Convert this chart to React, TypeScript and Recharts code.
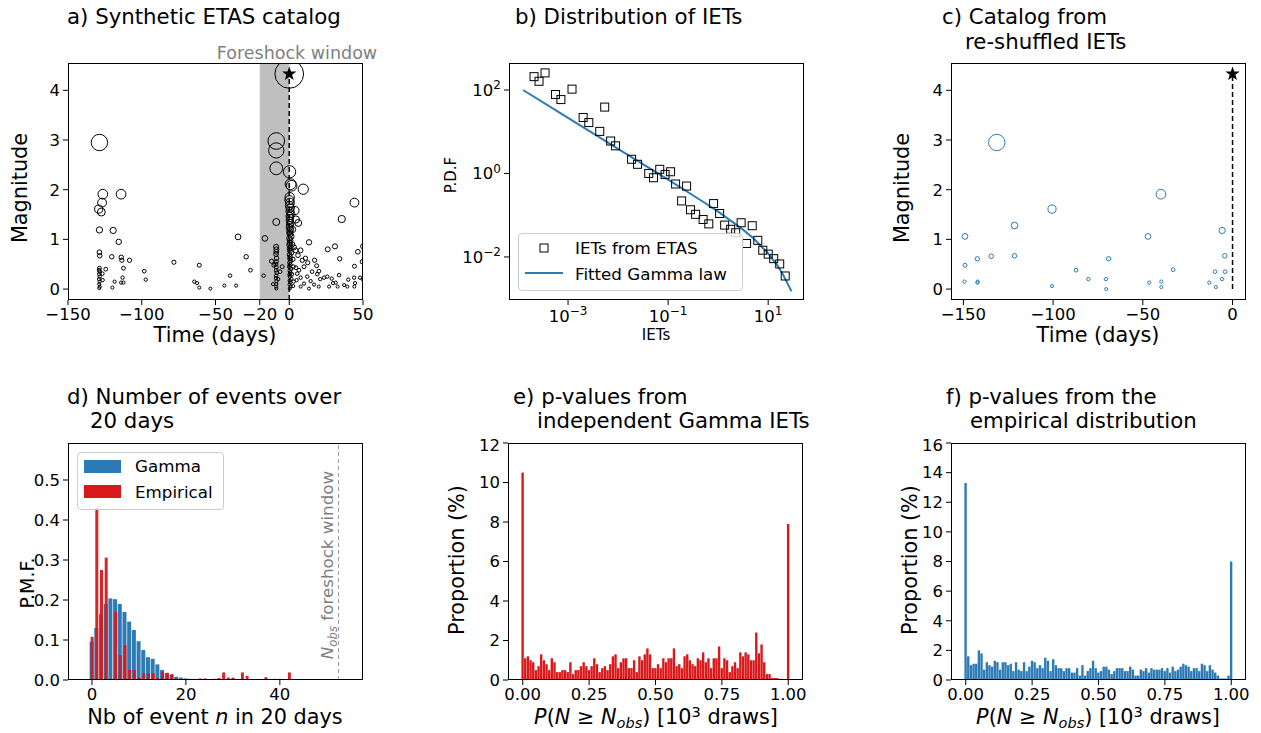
import React from "react";
import {
  ScatterChart,
  Scatter,
  ComposedChart,
  Line,
  BarChart,
  Bar,
  XAxis,
  YAxis,
  ReferenceArea,
  ReferenceLine,
} from "recharts";

const FONT = "'DejaVu Sans', sans-serif";
const BLUE = "#2c7bb6";
const RED = "#d7191c";

// a) synthetic ETAS catalog: [time (days), magnitude]
const etasEvents: [number, number][] = [
  [-128.7, 2.95], [-126.4, 1.91], [-126.9, 1.74], [-129.2, 1.61], [-127.4, 1.55], [-128.7, 1.19],
  [-114.0, 1.91], [-119.4, 1.18], [-115.6, 0.95], [-128.7, 0.74], [-128.5, 0.67], [-120.3, 0.65],
  [-113.9, 0.64], [-113.5, 0.58], [-108.3, 0.58], [-112.4, 0.42], [-124.4, 0.4], [-128.7, 0.42],
  [-128.9, 0.38], [-128.4, 0.35], [-128.8, 0.3], [-128.5, 0.25], [-128.9, 0.2], [-128.6, 0.15],
  [-128.8, 0.1], [-128.5, 0.05], [-128.8, 0.02], [-126.7, 0.31], [-126.5, 0.18], [-119.9, 0.03],
  [-118.4, 0.15], [-113.0, 0.23], [-112.4, 0.13], [-114.0, 0.13], [-98.3, 0.36], [-97.3, 0.19],
  [-78.2, 0.54], [-64.4, 0.15], [-62.5, 0.12], [-61.0, 0.48], [-61.0, 0.03], [-53.5, 0.01],
  [-44.0, 0.07], [-40.1, 0.27], [-36.0, 0.07], [-34.7, 1.05], [-29.2, 0.65], [-26.3, 0.38],
  [-17.4, 0.27], [-16.5, 1.02],
  [-8.8, 2.98], [-8.8, 2.79], [-8.8, 2.43], [-8.8, 1.35], [-8.9, 0.85], [-8.7, 0.8], [-8.8, 0.75],
  [-9.0, 0.7], [-8.6, 0.62], [-8.8, 0.55], [-9.1, 0.5], [-8.7, 0.44], [-8.9, 0.38], [-8.5, 0.33],
  [-8.8, 0.27], [-9.0, 0.22], [-8.7, 0.16], [-8.8, 0.1], [-8.9, 0.05], [-8.8, 0.01], [-12.0, 0.56],
  [-10.4, 0.48], [-4.8, 0.45], [-7.5, 0.2], [-6.2, 0.35], [-11.0, 0.1],
  [0, 4.33], [0.2, 2.36], [0.9, 2.11], [1.6, 2.08], [9.5, 2.01],
  [0.3, 1.85], [0.1, 1.79], [0.5, 1.74], [0.2, 1.68], [0.7, 1.63], [0.4, 1.57], [1.1, 1.52],
  [0.3, 1.47], [0.6, 1.43], [0.2, 1.38], [0.9, 1.33], [0.4, 1.29], [0.1, 1.24], [0.8, 1.2],
  [0.3, 1.15], [0.5, 1.11], [1.3, 1.06], [0.2, 1.02], [0.6, 0.98], [0.4, 0.93], [0.1, 0.89],
  [0.9, 0.85], [0.3, 0.81], [0.5, 0.77], [1.5, 0.73], [0.2, 0.69], [0.7, 0.65], [0.4, 0.61],
  [1.0, 0.57], [0.3, 0.53], [0.6, 0.49], [0.1, 0.45], [1.2, 0.41], [0.4, 0.37], [0.8, 0.33],
  [0.2, 0.29], [0.5, 0.25], [1.4, 0.21], [0.3, 0.17], [0.7, 0.13], [0.2, 0.09], [0.9, 0.05],
  [0.4, 0.01], [2.0, 0.9], [2.5, 0.6], [1.8, 0.3], [2.2, 1.2], [3.0, 0.15], [2.8, 0.45],
  [4.5, 1.4], [6.1, 1.33], [3.9, 1.58], [3.2, 0.84], [7.7, 0.78], [13.4, 0.94], [26.1, 0.8],
  [31.0, 0.86], [34.2, 0.61], [35.6, 1.41], [44.2, 1.74], [46.5, 0.75], [50.1, 0.86], [44.2, 0.46],
  [44.0, 0.23], [44.6, 0.12], [44.1, 0.05], [40.0, 0.19], [48.0, 0.23], [11.0, 0.62], [12.5, 0.53],
  [17.2, 0.58], [18.6, 0.47], [20.1, 0.36], [21.0, 0.2], [23.6, 0.23], [25.8, 0.25], [28.8, 0.21],
  [29.7, 0.12], [31.5, 0.13], [33.8, 0.28], [32.8, 0.05], [27.0, 0.05], [20.0, 0.05], [16.8, 0.09],
  [14.5, 0.16], [12.2, 0.25], [10.0, 0.11], [7.7, 0.23], [5.4, 0.31], [4.5, 0.43], [6.6, 0.38],
  [8.8, 0.58], [5.9, 0.68], [4.3, 0.78], [10.0, 0.45], [7.7, 0.05], [2.7, 0.06], [5.0, 0.18],
  [15.5, 0.35], [19.0, 0.3], [13.4, 0.01], [39.4, 0.05], [37.2, 0.08], [49.8, 0.2], [49.5, 0.55],
];
const mainshock = [{ t: 0, m: 4.33 }];

// c) catalog rebuilt from re-shuffled IETs
const shuffledEvents: [number, number][] = [
  [-149.1, 1.06], [-149.1, 0.48], [-149.4, 0.15], [-142.2, 0.61], [-142.2, 0.13], [-142.0, 0.15],
  [-134.5, 0.66], [-131.4, 2.95], [-121.5, 1.28], [-121.5, 0.67], [-100.6, 1.61], [-100.6, 0.06],
  [-87.2, 0.38], [-80.3, 0.2], [-70.6, 0.2], [-70.4, 0.0], [-69.1, 0.61], [-47.1, 1.06],
  [-46.4, 0.13], [-39.9, 1.91], [-39.7, 0.15], [-39.7, 0.04], [-33.1, 0.39], [-13.0, 0.13],
  [-9.7, 0.35], [-9.3, 0.04], [-5.8, 1.18], [-5.8, 0.2], [-4.3, 0.67], [-4.1, 0.35],
];

// b) distribution of inter-event times
const ietX = [
  2.09e-4, 2.63e-4, 3.47e-4, 5.6e-4, 7.2e-4, 1.2e-3, 5.4e-3, 2.0e-3, 2.6e-3, 4.3e-3,
  7.1e-3, 8.9e-3, 0.0186, 0.0245, 0.041, 0.051, 0.068, 0.087, 0.112, 0.141,
  0.234, 0.186, 0.28, 0.355, 0.5, 0.65, 0.81, 1.07, 1.35, 1.78,
  2.24, 2.88, 3.7, 4.8, 6.2, 7.8, 10.0, 12.9, 17.0, 21.9,
];
const ietPdf = [
  209, 162, 257, 78, 59, 105, 39, 22, 16.6, 10.2,
  6.0, 4.6, 2.19, 1.66, 1.0, 0.79, 1.26, 0.95, 1.1, 0.56,
  0.5, 0.22, 0.135, 0.105, 0.079, 0.062, 0.19, 0.11, 0.058, 0.046,
  0.038, 0.066, 0.021, 0.056, 0.025, 0.0145, 0.0117, 0.0091, 0.0068, 0.0035,
];
const gammaX = [1.26e-4, 1e-3, 1e-2, 0.1, 0.5, 1, 3, 5, 10, 15, 20, 29.3];
const gammaPdf = [100, 21.6, 3.9, 0.71, 0.21, 0.122, 0.047, 0.0283, 0.0121, 0.0065, 0.0037, 0.0015];

// d) number of events over 20 days
const nEvents = [
  0, 1, 2, 3, 4, 5, 6, 7, 8, 9, 10, 11, 12, 13, 14, 15, 16, 17, 18, 19, 20, 21,
  22, 23, 24, 25, 26, 27, 28, 29, 30, 31, 32, 33, 34, 35, 36, 37, 38, 39, 40, 41, 42,
];
const pmfGamma = [
  0.096, 0.13, 0.165, 0.19, 0.204, 0.202, 0.19, 0.17, 0.146, 0.125,
  0.097, 0.075, 0.057, 0.053, 0.039, 0.025, 0.017, 0.0125, 0.008, 0.006,
  0.004, 0.003, 0.002, 0.0015, 0.001, 0.0007, 0.0005, 0, 0, 0,
  0, 0, 0, 0, 0, 0, 0, 0, 0, 0, 0, 0, 0,
];
const pmfEmpirical = [
  0.108, 0.43, 0.275, 0.306, 0, 0.171, 0.062, 0.087, 0.025, 0.025,
  0.006, 0.017, 0.017, 0.017, 0.005, 0.02, 0.018, 0.015, 0.004, 0.002,
  0.002, 0, 0.001, 0.004, 0.004, 0, 0.003, 0.005, 0.019, 0.006,
  0.006, 0, 0.019, 0.01, 0, 0, 0.002, 0.007, 0, 0.003, 0.003, 0, 0.019,
];
const nObs = 52.5;

// e) p-values, independent Gamma IETs (bins of 0.01 centred on 0..1)
const pValGammaIETs = [
  10.5, 1.1, 1.2, 1.0, 0.9, 0.5, 0.7, 1.3, 1.0, 0.8,
  0.5, 1.1, 0.9, 0.4, 0.4, 0.5, 0.5, 0.4, 0.9, 0.3,
  0.5, 0.5, 0.7, 0.9, 0.7, 0.5, 0.7, 1.1, 0.8, 0.4,
  0.6, 0.7, 0.5, 0.8, 1.2, 1.3, 0.6, 0.9, 1.1, 1.1,
  0.6, 0.6, 1.0, 0.4, 1.2, 1.0, 1.3, 1.6, 1.3, 0.6,
  0.6, 0.8, 0.6, 1.1, 0.9, 1.1, 1.1, 1.6, 0.7, 0.8,
  0.6, 1.2, 1.3, 1.0, 0.8, 0.7, 1.1, 1.0, 1.4, 0.9,
  1.1, 0.6, 1.1, 1.1, 1.7, 0.6, 1.1, 1.0, 0.4, 0.7,
  0.9, 0.6, 1.4, 1.2, 1.4, 1.3, 1.0, 1.0, 2.4, 1.35,
  1.8, 0.9, 0.3, 0.3, 0.1, 0.1, 0.1, 0, 0, 0,
  7.9,
];
// f) p-values, empirical distribution
const pValEmpirical = [
  13.3, 1.6, 1.0, 1.1, 1.1, 2.0, 1.8, 0.7, 1.2, 1.0,
  0.9, 1.3, 1.2, 0.7, 1.2, 1.2, 1.0, 1.1, 0.6, 1.2,
  0.7, 0.6, 1.2, 0.6, 0.9, 1.3, 1.2, 0.8, 1.0, 0.8,
  1.5, 1.3, 0.6, 1.4, 1.0, 0.8, 0.8, 0.6, 0.8, 0.8,
  0.5, 0.5, 0.8, 0.3, 1.0, 0.3, 0.6, 0.8, 1.3, 0.8,
  0.5, 0.6, 0.9, 0.9, 0.7, 0.4, 0.6, 0.8, 0.8, 0.8,
  0.6, 0.6, 0.9, 0.7, 0.3, 0.3, 0.7, 0.6, 0.8, 0.5,
  0.8, 0.7, 0.7, 0.7, 0.8, 0.6, 0.8, 0.5, 0.9, 0.6,
  0.7, 0.9, 1.1, 1.0, 0.9, 0.6, 0.8, 0.8, 0.6, 1.1,
  1.0, 0.6, 1.0, 0.7, 0.5, 0.3, 0.1, 0.1, 0.1, 0.3,
  8.0,
];

const aData = etasEvents.map(([t, m]) => ({ t, m }));
const cData = shuffledEvents.map(([t, m]) => ({ t, m }));
const ietData = ietX.map((x, i) => ({ x, y: ietPdf[i] }));
const gammaData = gammaX.map((x, i) => ({ x, y: gammaPdf[i] }));
const pmfData = nEvents.map((n, i) => ({ n, gamma: pmfGamma[i], emp: pmfEmpirical[i] }));
const eData = pValGammaIETs.map((v, i) => ({ p: i / 100, v }));
const fData = pValEmpirical.map((v, i) => ({ p: i / 100, v }));

// layout
const PW = 295;
const PH = 237;
const YW = 70;
const MT = 8;
const MR = 22;
const XH = 50;
const CW = PW + YW + MR;
const CH = PH + MT + XH;
const margin = { top: MT, right: MR, left: 0, bottom: 0 };
const TICK = 16.5;

const tickStyle = { fontSize: TICK, fill: "#000", fontFamily: FONT };
const axisCommon = {
  axisLine: false,
  tickLine: { stroke: "#000" },
  tickSize: 5,
  tickMargin: 3,
  tick: tickStyle,
  allowDataOverflow: true,
};

const minus = (v: number) => (v < 0 ? "\u2212" + Math.abs(v) : String(v));
const markerRadius = (m: number) => 1.5 + 0.8 * m + 0.5 * m * m;

function starPath(cx: number, cy: number, R: number) {
  let d = "";
  for (let i = 0; i < 10; i++) {
    const r = i % 2 === 0 ? R : R * 0.4;
    const a = -Math.PI / 2 + (i * Math.PI) / 5;
    d += (i ? "L" : "M") + (cx + r * Math.cos(a)).toFixed(2) + "," + (cy + r * Math.sin(a)).toFixed(2);
  }
  return d + "Z";
}

const ringShape = (color: string) => (p: any) => (
  <circle cx={p.cx} cy={p.cy} r={markerRadius(p.payload?.m ?? 0)} fill="none" stroke={color} strokeWidth={1} />
);
const starShape = (p: any) => <path d={starPath(p.cx, p.cy, 7.5)} fill="#000" />;
const squareShape = (p: any) => (
  <rect x={p.cx - 4} y={p.cy - 4} width={8} height={8} fill="none" stroke="#000" strokeWidth={1} />
);

function PowTick(props: any) {
  const { x, y, payload, side } = props;
  const e = Math.round(Math.log10(payload.value));
  const exp = e < 0 ? "\u2212" + Math.abs(e) : String(e);
  if (side === "y") {
    return (
      <text x={x} y={y} textAnchor="end" dy="0.355em" style={{ fontSize: TICK, fontFamily: FONT }} fill="#000">
        10<tspan dy="-0.55em" style={{ fontSize: 12 }}>{exp}</tspan>
      </text>
    );
  }
  return (
    <text x={x} y={y + 2} textAnchor="middle" dy="0.71em" style={{ fontSize: TICK, fontFamily: FONT }} fill="#000">
      10<tspan dy="-0.55em" style={{ fontSize: 12 }}>{exp}</tspan>
    </text>
  );
}

function Panel({ left, top, children }: { left: number; top: number; children: React.ReactNode }) {
  return (
    <div
      style={{
        position: "absolute",
        left: left - YW,
        top: top - MT,
        width: CW,
        height: CH,
        fontFamily: FONT,
        fontSize: TICK,
      }}
    >
      {children}
      <div
        style={{
          position: "absolute",
          left: YW,
          top: MT,
          width: PW,
          height: PH,
          border: "1px solid #000",
          boxSizing: "border-box",
          pointerEvents: "none",
        }}
      />
    </div>
  );
}

function Caption(props: {
  x: number;
  y: number;
  size?: number;
  center?: boolean;
  rotate?: boolean;
  color?: string;
  children: React.ReactNode;
}) {
  const { x, y, size = 20.8, center, rotate, color = "#000", children } = props;
  return (
    <div
      style={{
        position: "absolute",
        left: x,
        top: y,
        fontFamily: FONT,
        fontSize: size,
        color,
        lineHeight: 1.2,
        whiteSpace: "nowrap",
        transform: rotate
          ? "translate(-50%, -50%) rotate(-90deg)"
          : `translate(${center ? "-50%" : "0"}, -50%)`,
      }}
    >
      {children}
    </div>
  );
}

const Sub = ({ children }: { children: React.ReactNode }) => (
  <span style={{ fontSize: "0.7em", position: "relative", top: "0.3em" }}>{children}</span>
);
const Sup = ({ children }: { children: React.ReactNode }) => (
  <span style={{ fontSize: "0.7em", position: "relative", top: "-0.5em" }}>{children}</span>
);

const pLabel = (
  <>
    <i>P</i>(<i>N</i> ≥ <i>N</i>
    <Sub>
      <i>obs</i>
    </Sub>
    ) [10<Sup>3</Sup> draws]
  </>
);

export default function App() {
  return (
    <div style={{ position: "absolute", left: 0, top: 0, width: 1261, height: 733, background: "#fff", overflow: "hidden" }}>
      <style>{`.recharts-cartesian-axis-tick-value, .recharts-cartesian-axis-tick-value tspan { font-family: 'DejaVu Sans', sans-serif !important; font-size: ${TICK}px !important; }`}</style>
      {/* a) */}
      <Panel left={68} top={63}>
        <ScatterChart width={CW} height={CH} margin={margin}>
          <XAxis {...axisCommon} type="number" dataKey="t" domain={[-150, 50]} ticks={[-150, -100, -50, -20, 0, 50]} tickFormatter={minus} height={XH} />
          <YAxis {...axisCommon} type="number" dataKey="m" domain={[-0.22, 4.55]} ticks={[0, 1, 2, 3, 4]} width={YW} />
          <ReferenceArea x1={-20} x2={0} fill="#bfbfbf" fillOpacity={1} stroke="none" />
          <ReferenceLine segment={[{ x: 0, y: -0.22 }, { x: 0, y: 4.33 }]} stroke="#000" strokeWidth={1.5} strokeDasharray="5 3" />
          <Scatter data={aData} shape={ringShape("#000")} isAnimationActive={false} />
          <Scatter data={mainshock} shape={starShape} isAnimationActive={false} />
        </ScatterChart>
      </Panel>

      {/* b) */}
      <Panel left={509} top={63}>
        <ComposedChart width={CW} height={CH} margin={margin} data={gammaData}>
          <XAxis {...axisCommon} type="number" dataKey="x" scale="log" domain={[6.6e-5, 52]} ticks={[1e-3, 1e-1, 10]} tick={<PowTick side="x" />} height={XH} />
          <YAxis {...axisCommon} type="number" dataKey="y" scale="log" domain={[9.3e-4, 444]} ticks={[1e-2, 1, 1e2]} tick={<PowTick side="y" />} width={YW} />
          <Scatter data={ietData} shape={squareShape} isAnimationActive={false} />
          <Line dataKey="y" type="linear" stroke={BLUE} strokeWidth={2} dot={false} isAnimationActive={false} />
        </ComposedChart>
      </Panel>

      {/* c) */}
      <Panel left={951} top={63}>
        <ScatterChart width={CW} height={CH} margin={margin}>
          <XAxis {...axisCommon} type="number" dataKey="t" domain={[-156.9, 7.5]} ticks={[-150, -100, -50, 0]} tickFormatter={minus} height={XH} />
          <YAxis {...axisCommon} type="number" dataKey="m" domain={[-0.22, 4.55]} ticks={[0, 1, 2, 3, 4]} width={YW} />
          <ReferenceLine segment={[{ x: 0, y: 0 }, { x: 0, y: 4.33 }]} stroke="#000" strokeWidth={1.5} strokeDasharray="5 3" />
          <Scatter data={cData} shape={ringShape(BLUE)} isAnimationActive={false} />
          <Scatter data={mainshock} shape={starShape} isAnimationActive={false} />
        </ScatterChart>
      </Panel>

      {/* d) */}
      <Panel left={68} top={443}>
        <BarChart width={CW} height={CH} margin={margin} data={pmfData} barGap={0}>
          <XAxis {...axisCommon} xAxisId="g" type="number" dataKey="n" domain={[-5.1, 57.7]} ticks={[0, 20, 40]} height={XH} />
          <XAxis xAxisId="e" type="number" dataKey="n" domain={[-5.1, 57.7]} allowDataOverflow hide height={0} />
          <YAxis {...axisCommon} type="number" domain={[0, 0.5925]} ticks={[0, 0.1, 0.2, 0.3, 0.4, 0.5]} tickFormatter={(v: number) => v.toFixed(1)} width={YW} />
          <ReferenceLine xAxisId="g" x={nObs} stroke="#999" strokeDasharray="4 3" strokeWidth={1} />
          <Bar xAxisId="g" dataKey="gamma" fill={BLUE} barSize={4} isAnimationActive={false} />
          <Bar xAxisId="e" dataKey="emp" fill={RED} fillOpacity={0.95} barSize={3} isAnimationActive={false} />
        </BarChart>
      </Panel>

      {/* e) */}
      <Panel left={508} top={443}>
        <BarChart width={CW} height={CH} margin={margin} data={eData}>
          <XAxis {...axisCommon} type="number" dataKey="p" domain={[-0.0555, 1.0555]} ticks={[0, 0.25, 0.5, 0.75, 1]} tickFormatter={(v: number) => v.toFixed(2)} height={XH} />
          <YAxis {...axisCommon} type="number" domain={[0, 12]} ticks={[0, 2, 4, 6, 8, 10, 12]} width={YW} />
          <Bar dataKey="v" fill={RED} barSize={3.2} isAnimationActive={false} />
        </BarChart>
      </Panel>

      {/* f) */}
      <Panel left={951} top={443}>
        <BarChart width={CW} height={CH} margin={margin} data={fData}>
          <XAxis {...axisCommon} type="number" dataKey="p" domain={[-0.0555, 1.0555]} ticks={[0, 0.25, 0.5, 0.75, 1]} tickFormatter={(v: number) => v.toFixed(2)} height={XH} />
          <YAxis {...axisCommon} type="number" domain={[0, 16]} ticks={[0, 2, 4, 6, 8, 10, 12, 14, 16]} width={YW} />
          <Bar dataKey="v" fill={BLUE} barSize={3.2} isAnimationActive={false} />
        </BarChart>
      </Panel>

      {/* titles */}
      <Caption x={67} y={17} size={21.3}>a) Synthetic ETAS catalog</Caption>
      <Caption x={515} y={17} size={21.3}>b) Distribution of IETs</Caption>
      <Caption x={942} y={17} size={21.3}>c) Catalog from</Caption>
      <Caption x={965} y={42} size={21.3}>re-shuffled IETs</Caption>
      <Caption x={67} y={397} size={21.3}>d) Number of events over</Caption>
      <Caption x={90} y={421} size={21.3}>20 days</Caption>
      <Caption x={513} y={397} size={21.3}>e) p-values from</Caption>
      <Caption x={537} y={421} size={21.3}>independent Gamma IETs</Caption>
      <Caption x={946} y={397} size={21.3}>f) p-values from the</Caption>
      <Caption x={970} y={421} size={21.3}>empirical distribution</Caption>

      {/* axis labels */}
      <Caption x={20} y={188} rotate>Magnitude</Caption>
      <Caption x={215} y={335} center>Time (days)</Caption>
      <Caption x={451} y={175} rotate size={15}>P.D.F</Caption>
      <Caption x={656} y={335} center size={15}>IETs</Caption>
      <Caption x={902} y={188} rotate>Magnitude</Caption>
      <Caption x={1098} y={335} center>Time (days)</Caption>
      <Caption x={27} y={583} rotate size={19}>P.M.F.</Caption>
      <Caption x={215} y={717} center>
        Nb of event <i>n</i> in 20 days
      </Caption>
      <Caption x={457} y={560} rotate>Proportion (%)</Caption>
      <Caption x={656} y={717} center>{pLabel}</Caption>
      <Caption x={910} y={560} rotate>Proportion (%)</Caption>
      <Caption x={1098} y={717} center>{pLabel}</Caption>

      {/* annotations */}
      <Caption x={297} y={53} center size={17.5} color="#808080">Foreshock window</Caption>
      <Caption x={327} y={565} rotate size={16.7} color="#808080">
        <i>N</i>
        <Sub>
          <i>obs</i>
        </Sub>{" "}
        foreshock window
      </Caption>

      {/* legend b */}
      <div
        style={{
          position: "absolute",
          left: 518,
          top: 233,
          width: 225,
          height: 58,
          border: "1px solid #ccc",
          borderRadius: 4,
          background: "rgba(255,255,255,0.8)",
          boxSizing: "border-box",
        }}
      />
      <svg style={{ position: "absolute", left: 518, top: 233 }} width={60} height={58}>
        <rect x={22} y={11} width={8} height={8} fill="none" stroke="#000" />
        <line x1={7} y1={40} x2={45} y2={40} stroke={BLUE} strokeWidth={2} />
      </svg>
      <Caption x={575} y={248} size={16.7}>IETs from ETAS</Caption>
      <Caption x={575} y={274} size={16.7}>Fitted Gamma law</Caption>

      {/* legend d */}
      <div
        style={{
          position: "absolute",
          left: 77,
          top: 452,
          width: 147,
          height: 58,
          border: "1px solid #ccc",
          borderRadius: 4,
          background: "rgba(255,255,255,0.8)",
          boxSizing: "border-box",
        }}
      />
      <svg style={{ position: "absolute", left: 77, top: 452 }} width={50} height={58}>
        <rect x={7} y={8} width={37} height={13} fill={BLUE} />
        <rect x={7} y={33} width={37} height={13} fill={RED} />
      </svg>
      <Caption x={135} y={466} size={16.7}>Gamma</Caption>
      <Caption x={135} y={492} size={16.7}>Empirical</Caption>
    </div>
  );
}
